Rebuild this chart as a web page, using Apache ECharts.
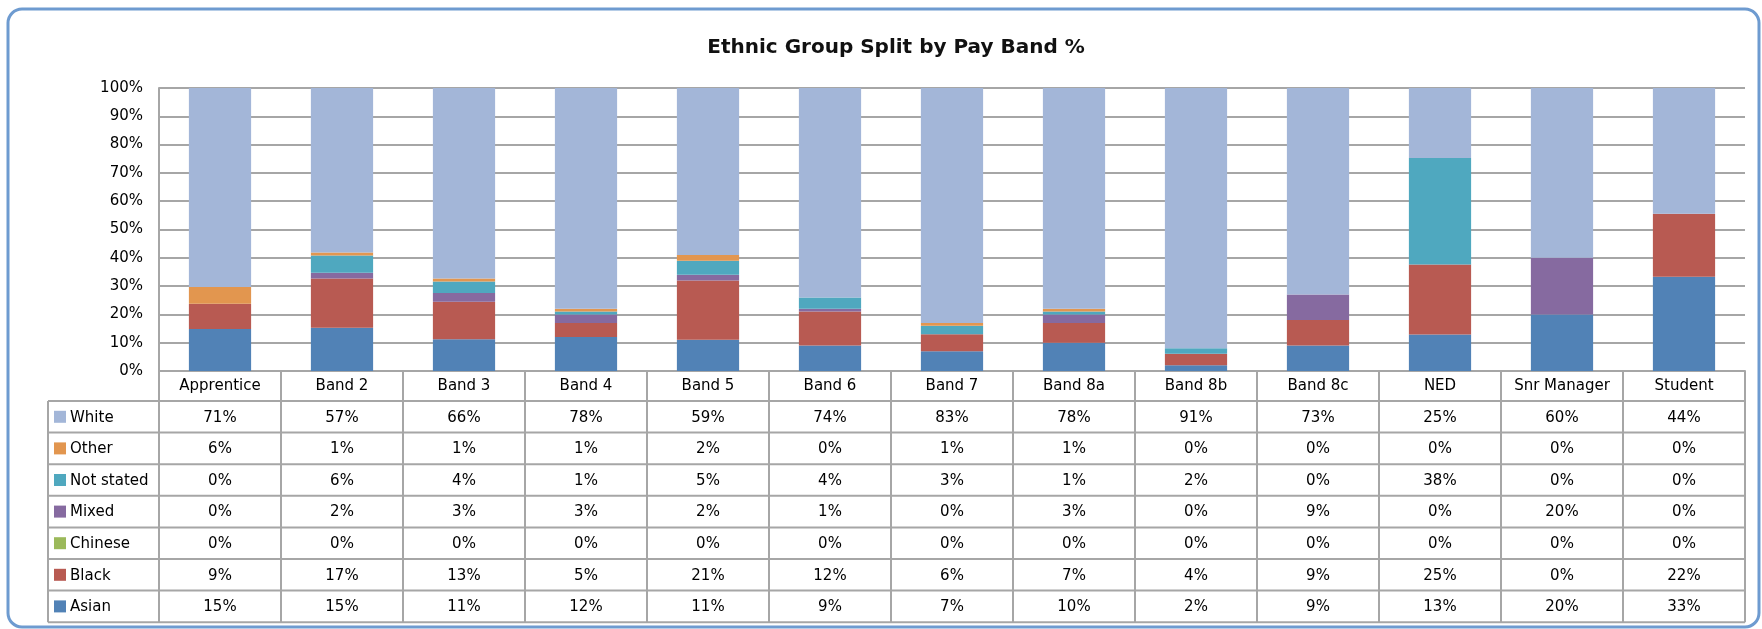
<!DOCTYPE html>
<html>
<head>
<meta charset="utf-8">
<script src="https://cdn.jsdelivr.net/npm/echarts@6/dist/echarts.min.js"></script>
<style>
html,body{margin:0;padding:0;background:#fff;}
#main{width:1762px;height:629px;}
</style>
</head>
<body>
<div id="main"></div>
<script>
// ---- data ----
const categories = ['Apprentice','Band 2','Band 3','Band 4','Band 5','Band 6','Band 7','Band 8a','Band 8b','Band 8c','NED','Snr Manager','Student'];
const white     = [71,57,66,78,59,74,83,78,91,73,25,60,44];
const other     = [6,1,1,1,2,0,1,1,0,0,0,0,0];
const notStated = [0,6,4,1,5,4,3,1,2,0,38,0,0];
const mixed     = [0,2,3,3,2,1,0,3,0,9,0,20,0];
const chinese   = [0,0,0,0,0,0,0,0,0,0,0,0,0];
const black     = [9,17,13,5,21,12,6,7,4,9,25,0,22];
const asian     = [15,15,11,12,11,9,7,10,2,9,13,20,33];
const yTicks    = [0,10,20,30,40,50,60,70,80,90,100];

// series in stacking order (bottom to top)
const seriesDefs = [
  {name:'Asian', data:asian, color:'#5182B6'},
  {name:'Black', data:black, color:'#B85A52'},
  {name:'Chinese', data:chinese, color:'#9BB95A'},
  {name:'Mixed', data:mixed, color:'#866AA0'},
  {name:'Not stated', data:notStated, color:'#4FA8BF'},
  {name:'Other', data:other, color:'#E2964F'},
  {name:'White', data:white, color:'#A3B6D8'}
];
// table rows order (top to bottom)
const tableOrder = ['White','Other','Not stated','Mixed','Chinese','Black','Asian'];

// 100% stacked: each column shown as share of its total
const totals = categories.map((c,i)=>seriesDefs.reduce((s,d)=>s+d.data[i],0));

const FONT = 'DejaVu Sans';
const GRID_COLOR = '#A6A6A6';

const chart = echarts.init(document.getElementById('main'));
chart.setOption({
  animation:false,
  title:{
    text:'Ethnic Group Split by Pay Band %',
    left:891, textAlign:'center', top:33,
    textStyle:{fontFamily:FONT, fontSize:20, fontWeight:'bold', color:'#111'}
  },
  grid:{left:159, top:88, width:1586, height:283, containLabel:false},
  xAxis:{
    type:'category', data:categories,
    axisLine:{show:true, lineStyle:{color:GRID_COLOR, width:2}},
    axisTick:{show:true, interval:0, length:30, lineStyle:{color:GRID_COLOR, width:2}},
    axisLabel:{interval:0, margin:8, fontFamily:FONT, fontSize:15, color:'#000'}
  },
  yAxis:{
    type:'value', min:yTicks[0], max:yTicks[yTicks.length-1], interval:10,
    axisLine:{show:true, lineStyle:{color:GRID_COLOR, width:2}},
    axisTick:{show:false},
    splitLine:{show:true, lineStyle:{color:GRID_COLOR, width:2}},
    axisLabel:{formatter:'{value}%', margin:16, fontFamily:FONT, fontSize:15, color:'#000'}
  },
  series: seriesDefs.map(d=>({
    name:d.name, type:'bar', stack:'total', barWidth:'51%',
    itemStyle:{color:d.color},
    data:d.data.map((v,i)=>v/totals[i]*100)
  }))
});

// ---- data table built from axis positions ----
const c0 = chart.convertToPixel({xAxisIndex:0}, 0);
const c1 = chart.convertToPixel({xAxisIndex:0}, 1);
const band = c1 - c0;
const plotLeft = c0 - band/2;
const plotRight = plotLeft + band*categories.length;
const yZero = chart.convertToPixel({yAxisIndex:0}, 0);
const headerH = 30;
const rowH = 31.6;
const tableTop = yZero + headerH;
const tableLeft = 48;
const tableBottom = tableTop + rowH*tableOrder.length;

const g = [];
// frame
g.push({type:'rect', shape:{x:8, y:9, width:1751, height:618, r:14},
  style:{fill:null, stroke:'#6E9BD0', lineWidth:3}, z:0});
// horizontal lines
for(let r=0;r<=tableOrder.length;r++){
  const y = tableTop + r*rowH;
  g.push({type:'line', shape:{x1:tableLeft, y1:y, x2:plotRight, y2:y},
    style:{stroke:GRID_COLOR, lineWidth:2}, z:10});
}
// vertical lines
g.push({type:'line', shape:{x1:tableLeft, y1:tableTop, x2:tableLeft, y2:tableBottom},
  style:{stroke:GRID_COLOR, lineWidth:2}, z:10});
for(let k=0;k<=categories.length;k++){
  const x = plotLeft + k*band;
  g.push({type:'line', shape:{x1:x, y1:tableTop, x2:x, y2:tableBottom},
    style:{stroke:GRID_COLOR, lineWidth:2}, z:10});
}
// rows
tableOrder.forEach((name,r)=>{
  const def = seriesDefs.find(d=>d.name===name);
  const yc = tableTop + r*rowH + rowH/2;
  g.push({type:'rect', shape:{x:54, y:yc-6, width:12, height:12},
    style:{fill:def.color}, z:11});
  g.push({type:'text', x:70, y:yc+1,
    style:{text:name, fontFamily:FONT, fontSize:15, fill:'#000', align:'left', verticalAlign:'middle'}, z:11});
  categories.forEach((c,i)=>{
    const xc = chart.convertToPixel({xAxisIndex:0}, i);
    g.push({type:'text', x:xc, y:yc+1,
      style:{text:def.data[i]+'%', fontFamily:FONT, fontSize:15, fill:'#000', align:'center', verticalAlign:'middle'}, z:11});
  });
});
chart.setOption({graphic:g});
</script>
</body>
</html>
